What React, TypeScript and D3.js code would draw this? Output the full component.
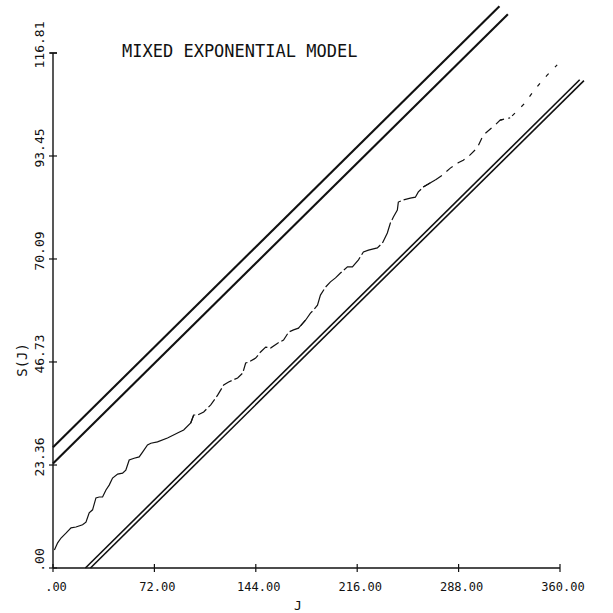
import React from 'react';
import * as d3 from 'd3';

const J_VALUES = [1, 3.3, 5.7, 9.2, 12.8, 16.3, 21, 23.4, 25.7, 28.1, 30.5, 32.8, 35.2, 37.6, 39.9, 42.3, 45.9, 49.4, 51.7, 54.1, 57.6, 61.2, 63.6, 67.1, 69.5, 74.2, 81.3, 89.5, 92.8, 97.8, 99.9, 102.8, 107, 112, 116.9, 121.2, 124.7, 131.1, 134.7, 136.8, 138.9, 143.9, 147.4, 151, 154.5, 159.5, 163.7, 167.3, 170.8, 174.3, 179.3, 182.8, 185, 187.8, 189.9, 193.5, 197, 200.6, 204.1, 209.1, 212.6, 216.9, 220.4, 224, 230.3, 233.9, 237.4, 239.5, 241.7, 244.5, 245.2, 248.8, 253.7, 257.3, 259.4, 262.9, 271.4, 276.4, 282.1, 287.7, 291.3, 296.2, 301.2, 305.5, 314, 317.5, 324.6, 330.3, 335.2, 340.2, 345.9, 350.9, 358];
const S_VALUES = [4.1, 5.7, 6.8, 7.9, 9.1, 9.3, 9.8, 10.4, 12.5, 13.2, 15.9, 16.1, 16.1, 17.7, 18.8, 20.4, 21.3, 21.5, 22.2, 24.5, 24.9, 25.2, 26.3, 27.9, 28.3, 28.6, 29.5, 30.8, 31.3, 32.9, 34.7, 34.7, 35.4, 37, 39.2, 41.5, 42.2, 43.1, 44.2, 46.5, 46.7, 47.6, 49, 50.1, 49.9, 51, 51.7, 53.5, 54, 54.4, 56.2, 57.8, 58.5, 59.6, 61.9, 63.7, 64.9, 65.8, 66.9, 68.3, 68.3, 69.9, 71.7, 72.1, 72.6, 73.7, 76, 78.2, 79.6, 81.2, 83, 83.5, 83.9, 84.1, 85.3, 86.4, 88, 89.1, 90.7, 91.9, 92.5, 93.7, 95.3, 98.2, 100.5, 101.6, 102.1, 103.9, 105.5, 107.7, 110, 111.8, 114.1];

// the curve gets patchier as it goes up (plotter pen)
const DASH_BREAKS = [0, 98, 175, 265, 320, 360];
const DASH_STYLES = ['none', '10 3', '22 3', '8 6', '4 9'];

// straight bound lines: S = SLOPE * J + intercept
const SLOPE = 0.3155;
const UPPER_INTERCEPTS = [27.4, 23.7];
const UPPER_END_J = [317, 323];
const LOWER_START_J = [23, 26.6];
const LOWER_END_J = [374, 377];

const X_TICKS = [0, 72, 144, 216, 288, 360];
const X_LABELS = ['.00', '72.00', '144.00', '216.00', '288.00', '360.00'];
const Y_TICKS = [0, 23.36, 46.73, 70.09, 93.45, 116.81];
const Y_LABELS = ['.00', '23.36', '46.73', '70.09', '93.45', '116.81'];

const W = 613;
const H = 613;
const FONT = '"DejaVu Sans Mono", "Liberation Mono", monospace';

export default function App() {
  const x = d3.scaleLinear().domain([0, 360]).range([53, 560]);
  const y = d3.scaleLinear().domain([0, 116.81]).range([568, 53]);

  const pts = J_VALUES.map((j, i) => [j, S_VALUES[i]] as [number, number]);
  const line = d3.line<[number, number]>().x(d => x(d[0])).y(d => y(d[1]));

  const segments = DASH_STYLES.map((dash, k) => {
    const lo = DASH_BREAKS[k];
    const hi = DASH_BREAKS[k + 1];
    const seg = pts.filter((p, i) => {
      const next = pts[i + 1];
      const prev = pts[i - 1];
      return (p[0] >= lo && p[0] <= hi) || (next && p[0] < lo && next[0] >= lo) || (prev && p[0] > hi && prev[0] <= hi);
    });
    return { dash, d: line(seg) };
  });

  const upper = UPPER_INTERCEPTS.map((b, i) => [[0, b], [UPPER_END_J[i], b + SLOPE * UPPER_END_J[i]]] as [number, number][]);
  const lower = LOWER_START_J.map((j0, i) => [[j0, 0], [LOWER_END_J[i], SLOPE * (LOWER_END_J[i] - j0)]] as [number, number][]);

  return (
    <svg width={W} height={H} style={{ position: 'absolute', left: 0, top: 0, background: '#fff' }}>
      <text x={122} y={57} fontFamily={FONT} fontSize={17} fill="#111">MIXED EXPONENTIAL MODEL</text>

      {/* axes */}
      <line x1={x(0)} x2={x(0)} y1={y(0)} y2={y(116.81)} stroke="#111" strokeWidth={1.4} />
      <line x1={x(0)} x2={x(360)} y1={y(0)} y2={y(0)} stroke="#111" strokeWidth={1.4} />
      <line x1={x(0) - 3} x2={x(0) + 4} y1={y(116.81)} y2={y(116.81)} stroke="#111" strokeWidth={1.4} />

      {X_TICKS.map((t, i) => (
        <g key={'x' + i}>
          <line x1={x(t)} x2={x(t)} y1={y(0) - 4} y2={y(0) + 4} stroke="#111" strokeWidth={1.2} />
          <text x={x(t) + 3} y={591} textAnchor="middle" fontFamily={FONT} fontSize={12} fill="#111">{X_LABELS[i]}</text>
        </g>
      ))}
      {Y_TICKS.map((t, i) => (
        <g key={'y' + i}>
          <line x1={x(0) - 4} x2={x(0) + 4} y1={y(t)} y2={y(t)} stroke="#111" strokeWidth={1.2} />
          <text transform={`translate(${x(0) - 9},${y(t) - 8}) rotate(-90)`} textAnchor="middle" fontFamily={FONT} fontSize={13} fill="#111">{Y_LABELS[i]}</text>
        </g>
      ))}

      <text x={298} y={610} textAnchor="middle" fontFamily={FONT} fontSize={13} fill="#111">J</text>
      <text transform={`translate(27,360) rotate(-90)`} textAnchor="middle" fontFamily={FONT} fontSize={14} fill="#111">S(J)</text>

      {upper.map((l, i) => (
        <path key={'u' + i} d={line(l) || ''} stroke="#111" strokeWidth={2.1} fill="none" />
      ))}
      {lower.map((l, i) => (
        <path key={'l' + i} d={line(l) || ''} stroke="#111" strokeWidth={1.6} fill="none" />
      ))}

      {segments.map((s, i) => (
        <path key={'c' + i} d={s.d || ''} stroke="#111" strokeWidth={1.2} fill="none" strokeDasharray={s.dash} />
      ))}
    </svg>
  );
}
